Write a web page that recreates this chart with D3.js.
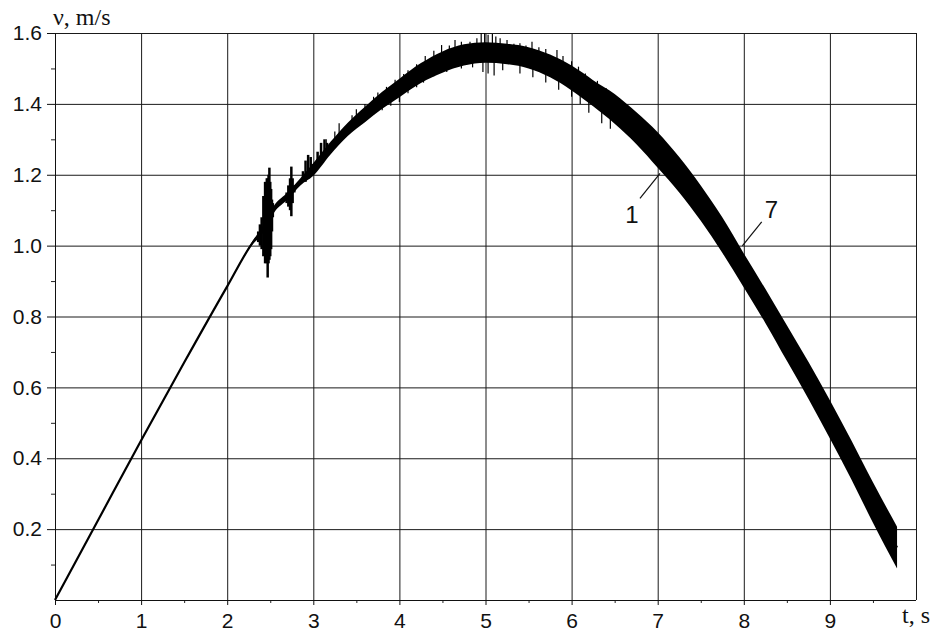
<!DOCTYPE html>
<html>
<head>
<meta charset="utf-8">
<script src="https://cdn.jsdelivr.net/npm/d3@7"></script>
<style>
  body { margin: 0; background: #fff; }
  svg { display: block; }
  .tick text { font-family: "Liberation Sans", Arial, sans-serif; font-size: 21px; fill: #111; }
</style>
</head>
<body>
<svg id="chart" width="937" height="632"></svg>
<script>
// Axis ticks
const xTicks = [0, 1, 2, 3, 4, 5, 6, 7, 8, 9];
const xMinor = [0.5, 1.5, 2.5, 3.5, 4.5, 5.5, 6.5, 7.5, 8.5, 9.5];
const xGrid = [1, 2, 3, 4, 5, 6, 7, 8, 9, 10];
const yTicks = [0.2, 0.4, 0.6, 0.8, 1.0, 1.2, 1.4, 1.6];
const yTickLabels = ["0.2", "0.4", "0.6", "0.8", "1.0", "1.2", "1.4", "1.6"];
const yMinor = [0.1, 0.3, 0.5, 0.7, 0.9, 1.1, 1.3, 1.5];

// Speed curve: mean value and upper / lower envelope of the oscillation
const tSeries = [0, 0.5, 1.0, 1.5, 2.0, 2.3, 2.4, 2.55, 2.7, 2.85, 3.0, 3.2, 3.4, 3.6, 3.8, 4.0,
                 4.25, 4.5, 4.75, 5.0, 5.25, 5.5, 5.75, 6.0, 6.25, 6.5, 6.75, 7.0, 7.25, 7.5,
                 7.75, 8.0, 8.25, 8.5, 8.75, 9.0, 9.25, 9.5, 9.78];
const vMean = [0, 0.225, 0.45, 0.67, 0.885, 1.01, 1.04, 1.105, 1.14, 1.18, 1.215, 1.275, 1.328, 1.37, 1.41, 1.445,
               1.487, 1.518, 1.538, 1.545, 1.541, 1.53, 1.507, 1.473, 1.43, 1.386, 1.332, 1.27, 1.20, 1.12,
               1.03, 0.93, 0.83, 0.725, 0.62, 0.51, 0.395, 0.275, 0.148];
const vUpper = [0, 0.225, 0.45, 0.67, 0.885, 1.015, 1.05, 1.115, 1.15, 1.19, 1.233, 1.293, 1.347, 1.392, 1.434, 1.471,
                1.515, 1.548, 1.568, 1.574, 1.57, 1.56, 1.539, 1.508, 1.467, 1.428, 1.377, 1.32, 1.25, 1.17,
                1.08, 0.978, 0.878, 0.775, 0.672, 0.564, 0.45, 0.332, 0.207];
const vLower = [0, 0.225, 0.45, 0.67, 0.885, 1.005, 1.03, 1.095, 1.13, 1.17, 1.197, 1.257, 1.309, 1.348, 1.386, 1.419,
                1.459, 1.488, 1.508, 1.516, 1.512, 1.50, 1.475, 1.438, 1.393, 1.344, 1.287, 1.22, 1.15, 1.07,
                0.98, 0.882, 0.782, 0.675, 0.568, 0.456, 0.34, 0.218, 0.089];

// Vibration bursts around t = 2.4 ... 3.2 s (time, min, max)
const burstT  = [2.36, 2.38, 2.40, 2.42, 2.44, 2.46, 2.47, 2.48, 2.49, 2.50, 2.51, 2.52, 2.53,
                 2.69, 2.71, 2.73, 2.745, 2.76, 2.78,
                 2.88, 2.91, 2.94, 2.97, 2.99,
                 3.05, 3.09, 3.13, 3.16];
const burstLo = [1.01, 1.00, 0.99, 0.97, 0.95, 0.95, 0.91, 0.95, 0.96, 0.97, 0.99, 1.04, 1.08,
                 1.12, 1.11, 1.10, 1.083, 1.12, 1.15,
                 1.18, 1.18, 1.19, 1.20, 1.21,
                 1.235, 1.24, 1.25, 1.265];
const burstHi = [1.04, 1.06, 1.08, 1.14, 1.18, 1.19, 1.19, 1.20, 1.22, 1.18, 1.16, 1.13, 1.12,
                 1.15, 1.17, 1.19, 1.223, 1.19, 1.17,
                 1.21, 1.24, 1.256, 1.25, 1.23,
                 1.265, 1.29, 1.30, 1.29];

// Isolated peaks of the oscillation along the upper and lower edge
const peakUpT = [3.15, 3.25, 3.3, 3.45, 3.5, 3.6, 3.7, 3.75, 3.85, 3.95, 4.05, 4.1, 4.2, 4.3, 4.4, 4.49,
                 4.58, 4.646, 4.72, 4.82, 4.9, 4.95, 4.99, 5.03, 5.08, 5.12, 5.17, 5.25, 5.33, 5.40,
                 5.47, 5.54, 5.62, 5.7, 5.83, 5.9, 6.0, 6.08, 6.16, 6.3, 6.4];
const peakUpV = [1.30, 1.322, 1.345, 1.368, 1.385, 1.40, 1.42, 1.432, 1.448, 1.468, 1.484, 1.495, 1.512, 1.535, 1.55, 1.566,
                 1.565, 1.58, 1.575, 1.575, 1.585, 1.60, 1.60, 1.595, 1.597, 1.59, 1.585, 1.58, 1.57, 1.571,
                 1.565, 1.575, 1.56, 1.555, 1.552, 1.535, 1.52, 1.505, 1.486, 1.465, 1.445];
const peakDnT = [3.3, 3.5, 3.7, 3.8, 3.9, 4.0, 4.1, 4.2, 4.28, 4.4, 4.55, 4.72, 4.85, 4.97, 5.03, 5.1,
                 5.2, 5.4, 5.55, 5.7, 5.85, 6.0, 6.1, 6.2, 6.35, 6.45];
const peakDnV = [1.295, 1.335, 1.37, 1.382, 1.395, 1.405, 1.43, 1.447, 1.46, 1.478, 1.49, 1.50, 1.503, 1.49, 1.486, 1.48,
                 1.495, 1.486, 1.475, 1.46, 1.44, 1.42, 1.40, 1.375, 1.345, 1.33];

// Curve labels with leader lines (text position, leader start, leader end)
const curveLabels = ["1", "7"];
const labelAt = [[6.70, 1.064], [8.32, 1.078]];
const leaderFrom = [[6.794, 1.133], [8.208, 1.067]];
const leaderTo = [[7.027, 1.204], [7.983, 0.999]];

const svg = d3.select("#chart");
const x = d3.scaleLinear().domain([0, 10]).range([55, 916]);
const y = d3.scaleLinear().domain([0, 1.6]).range([600, 33]);

// Grid
svg.append("g")
  .attr("transform", `translate(0,${y(0)})`)
  .call(d3.axisBottom(x).tickValues(xGrid).tickSize(-(y(0) - y(1.6))).tickSizeOuter(0).tickFormat(""))
  .call(g => g.select(".domain").remove())
  .call(g => g.selectAll("line").attr("stroke", "#1a1a1a"));
svg.append("g")
  .attr("transform", `translate(${x(0)},0)`)
  .call(d3.axisLeft(y).tickValues(yTicks).tickSize(-(x(10) - x(0))).tickSizeOuter(0).tickFormat(""))
  .call(g => g.select(".domain").remove())
  .call(g => g.selectAll("line").attr("stroke", "#1a1a1a"));

// Minor ticks
svg.append("g")
  .attr("transform", `translate(0,${y(0)})`)
  .call(d3.axisBottom(x).tickValues(xMinor).tickSize(3).tickSizeOuter(0).tickFormat(""))
  .call(g => g.select(".domain").remove())
  .call(g => g.selectAll("line").attr("stroke", "#222"));
svg.append("g")
  .attr("transform", `translate(${x(0)},0)`)
  .call(d3.axisLeft(y).tickValues(yMinor).tickSize(4).tickSizeOuter(0).tickFormat(""))
  .call(g => g.select(".domain").remove())
  .call(g => g.selectAll("line").attr("stroke", "#222"));

// Main axes with labels
svg.append("g")
  .attr("transform", `translate(0,${y(0)})`)
  .call(d3.axisBottom(x).tickValues(xTicks).tickSize(5).tickPadding(8).tickSizeOuter(0)
    .tickFormat(d => String(d)))
  .call(g => g.select(".domain").attr("d", `M${x(0)},0.5H${x(10)}`).attr("stroke", "#111"))
  .call(g => g.selectAll("line").attr("stroke", "#111"));
svg.append("g")
  .attr("transform", `translate(${x(0)},0)`)
  .call(d3.axisLeft(y).tickValues(yTicks).tickSize(8).tickPadding(5).tickSizeOuter(0)
    .tickFormat((d, i) => yTickLabels[i]))
  .call(g => g.select(".domain").attr("d", `M0.5,${y(0)}V${y(1.6)}`).attr("stroke", "#111"))
  .call(g => g.selectAll("line").attr("stroke", "#111"));

// Axis titles
svg.append("text").attr("x", 53).attr("y", 25)
  .attr("font-family", "'Liberation Serif', 'Times New Roman', serif").attr("font-size", 24)
  .attr("fill", "#111").text("ν, m/s");
svg.append("text").attr("x", 902).attr("y", 623)
  .attr("font-family", "'Liberation Serif', 'Times New Roman', serif").attr("font-size", 24)
  .attr("fill", "#111").text("t, s");

const idx = d3.range(tSeries.length);

// Oscillation envelope
svg.append("path")
  .datum(idx)
  .attr("fill", "#000")
  .attr("d", d3.area().curve(d3.curveMonotoneX)
    .x(i => x(tSeries[i])).y0(i => y(vLower[i])).y1(i => y(vUpper[i])));

// Mean speed line
svg.append("path")
  .datum(idx)
  .attr("fill", "none").attr("stroke", "#000").attr("stroke-width", 2.2)
  .attr("d", d3.line().curve(d3.curveMonotoneX).x(i => x(tSeries[i])).y(i => y(vMean[i])));

// Bursts
svg.append("g").selectAll("line")
  .data(d3.range(burstT.length)).join("line")
  .attr("x1", i => x(burstT[i])).attr("x2", i => x(burstT[i]))
  .attr("y1", i => y(burstLo[i])).attr("y2", i => y(burstHi[i]))
  .attr("stroke", "#000").attr("stroke-width", 2.5);

// Peaks above and below the envelope
const meanAt = t => {
  const j = d3.bisectRight(tSeries, t) - 1;
  const f = (t - tSeries[j]) / (tSeries[j + 1] - tSeries[j]);
  return vMean[j] + f * (vMean[j + 1] - vMean[j]);
};
svg.append("g").selectAll("line")
  .data(d3.range(peakUpT.length)).join("line")
  .attr("x1", i => x(peakUpT[i])).attr("x2", i => x(peakUpT[i]))
  .attr("y1", i => y(meanAt(peakUpT[i]))).attr("y2", i => y(peakUpV[i]))
  .attr("stroke", "#000").attr("stroke-width", 1.2);
svg.append("g").selectAll("line")
  .data(d3.range(peakDnT.length)).join("line")
  .attr("x1", i => x(peakDnT[i])).attr("x2", i => x(peakDnT[i]))
  .attr("y1", i => y(meanAt(peakDnT[i]))).attr("y2", i => y(peakDnV[i]))
  .attr("stroke", "#000").attr("stroke-width", 1.2);

// Curve labels
curveLabels.forEach((lab, i) => {
  svg.append("line")
    .attr("x1", x(leaderFrom[i][0])).attr("y1", y(leaderFrom[i][1]))
    .attr("x2", x(leaderTo[i][0])).attr("y2", y(leaderTo[i][1]))
    .attr("stroke", "#111").attr("stroke-width", 1.2);
  svg.append("text")
    .attr("x", x(labelAt[i][0])).attr("y", y(labelAt[i][1]))
    .attr("text-anchor", "middle")
    .attr("font-family", "'Liberation Sans', Arial, sans-serif").attr("font-size", 24)
    .attr("fill", "#111").text(lab);
});
</script>
</body>
</html>
